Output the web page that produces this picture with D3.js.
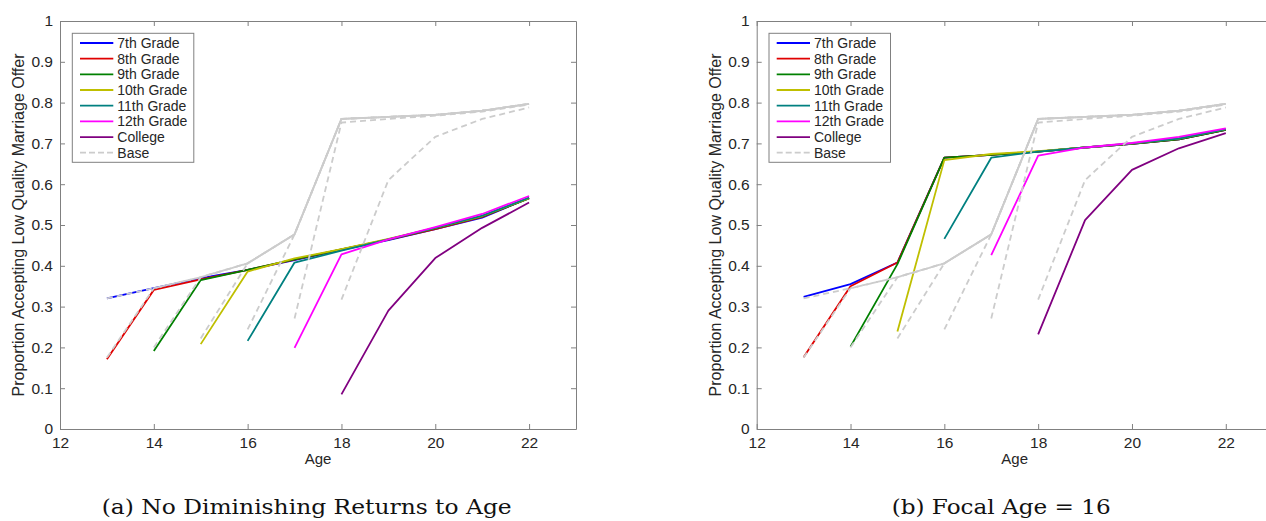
<!DOCTYPE html>
<html>
<head>
<meta charset="utf-8">
<script src="https://cdn.jsdelivr.net/npm/d3@7"></script>
<style>
  html, body { margin: 0; padding: 0; background: #fff; }
  svg { display: block; }
</style>
</head>
<body>
<svg id="chart" width="1266" height="521"></svg>
<script>
// ---------- DATA ----------
const seriesNames = ["7th Grade", "8th Grade", "9th Grade", "10th Grade", "11th Grade", "12th Grade", "College"];
const startAges = [13, 13, 14, 15, 16, 17, 18];
const xTickValues = [12, 14, 16, 18, 20, 22];
const yTickValues = [0, 0.1, 0.2, 0.3, 0.4, 0.5, 0.6, 0.7, 0.8, 0.9, 1];
const yTickLabels = ["0", "0.1", "0.2", "0.3", "0.4", "0.5", "0.6", "0.7", "0.8", "0.9", "1"];
const captions = ["(a) No Diminishing Returns to Age", "(b) Focal Age = 16"];

// Base (gray dashed) curves, one per entry grade (same in both panels)
const base7th     = [0.320, 0.345, 0.372, 0.406, 0.477, 0.760, 0.765, 0.770, 0.780, 0.797];
const base8th     = [0.175, 0.345, 0.372, 0.406, 0.477, 0.760, 0.765, 0.770, 0.780, 0.797];
const base9th     = [0.200, 0.372, 0.406, 0.477, 0.760, 0.765, 0.770, 0.780, 0.797];
const base10th    = [0.222, 0.406, 0.477, 0.760, 0.765, 0.770, 0.780, 0.797];
const base11th    = [0.244, 0.477, 0.760, 0.765, 0.770, 0.780, 0.797];
const base12th    = [0.271, 0.751, 0.760, 0.768, 0.778, 0.795];
const baseCollege = [0.317, 0.610, 0.716, 0.760, 0.788];

// Panel (a): No Diminishing Returns to Age
const noDim7th     = [0.320, 0.345, 0.370, 0.390, 0.414, 0.439, 0.463, 0.490, 0.518, 0.566];
const noDim8th     = [0.171, 0.341, 0.367, 0.390, 0.415, 0.440, 0.464, 0.490, 0.520, 0.566];
const noDim9th     = [0.191, 0.365, 0.390, 0.416, 0.440, 0.465, 0.492, 0.521, 0.565];
const noDim10th    = [0.208, 0.386, 0.418, 0.441, 0.466, 0.493, 0.522, 0.566];
const noDim11th    = [0.216, 0.408, 0.437, 0.465, 0.493, 0.523, 0.567];
const noDim12th    = [0.199, 0.428, 0.465, 0.495, 0.527, 0.571];
const noDimCollege = [0.085, 0.290, 0.419, 0.493, 0.555];

// Panel (b): Focal Age = 16
const focal7th     = [0.324, 0.355, 0.408, 0.665, 0.672, 0.680, 0.690, 0.699, 0.710, 0.733];
const focal8th     = [0.176, 0.350, 0.408, 0.665, 0.672, 0.680, 0.690, 0.699, 0.710, 0.733];
const focal9th     = [0.202, 0.404, 0.665, 0.672, 0.680, 0.690, 0.699, 0.710, 0.733];
const focal10th    = [0.239, 0.659, 0.674, 0.681, 0.690, 0.700, 0.712, 0.735];
const focal11th    = [0.466, 0.665, 0.680, 0.690, 0.700, 0.712, 0.735];
const focal12th    = [0.426, 0.670, 0.690, 0.701, 0.716, 0.737];
const focalCollege = [0.232, 0.512, 0.635, 0.688, 0.725];

// ---------- STYLE ----------
const seriesColors = ["#0000ff", "#e00000", "#008000", "#bfbf00", "#008080", "#ff00ff", "#800080"];
const baseColor = "#cccccc";
const axisColor = "#808080";
const textColor = "#262626";

const baseSets = [base7th, base8th, base9th, base10th, base11th, base12th, baseCollege];
const panels = [
  { left: 60, right: 576, sets: [noDim7th, noDim8th, noDim9th, noDim10th, noDim11th, noDim12th, noDimCollege], caption: captions[0], capX: 306.7, capW: 410 },
  { left: 756.7, right: 1272.7, sets: [focal7th, focal8th, focal9th, focal10th, focal11th, focal12th, focalCollege], caption: captions[1], capX: 1001.2, capW: 219 }
];

const plotTop = 21, plotBottom = 429;
const svg = d3.select("#chart");
const font = "'Liberation Sans', Arial, Helvetica, sans-serif";

function toPoints(values, start) {
  return values.map((v, i) => ({ x: start + i, y: v }));
}

panels.forEach(p => {
  const x = d3.scaleLinear().domain([12, 23]).range([p.left, p.right]);
  const y = d3.scaleLinear().domain([0, 1]).range([plotBottom, plotTop]);
  const g = svg.append("g");

  const bottomAxis = d3.axisBottom(x).tickValues(xTickValues).tickSizeInner(-5).tickSizeOuter(0).tickPadding(10).tickFormat(d3.format("d"));
  const topAxis = d3.axisTop(x).tickValues(xTickValues).tickSizeInner(-5).tickSizeOuter(0).tickFormat("");
  const leftAxis = d3.axisLeft(y).tickValues(yTickValues).tickSizeInner(-5).tickSizeOuter(0).tickPadding(7)
    .tickFormat((d, i) => yTickLabels[i]);
  const rightAxis = d3.axisRight(y).tickValues(yTickValues).tickSizeInner(-5).tickSizeOuter(0).tickFormat("");

  const gb = g.append("g").attr("transform", `translate(0,${plotBottom})`).call(bottomAxis);
  const gt = g.append("g").attr("transform", `translate(0,${plotTop})`).call(topAxis);
  const gl = g.append("g").attr("transform", `translate(${p.left},0)`).call(leftAxis);
  const gr = g.append("g").attr("transform", `translate(${p.right},0)`).call(rightAxis);
  [gb, gt, gl, gr].forEach(a => {
    a.select(".domain").attr("stroke", axisColor).attr("stroke-width", 1);
    a.selectAll(".tick line").attr("stroke", axisColor);
    a.selectAll("text").attr("fill", textColor).style("font-family", font).style("font-size", "15.5px");
  });
  gb.selectAll(".tick text").attr("dy", "0.71em").attr("y", 8);

  const line = d3.line().x(d => x(d.x)).y(d => y(d.y));

  p.sets.forEach((vals, i) => {
    g.append("path")
      .datum(toPoints(vals, startAges[i]))
      .attr("d", line)
      .attr("fill", "none")
      .attr("stroke", seriesColors[i])
      .attr("stroke-width", 1.8)
      .attr("stroke-linejoin", "round");
  });
  baseSets.forEach((vals, i) => {
    g.append("path")
      .datum(toPoints(vals, startAges[i]))
      .attr("d", line)
      .attr("fill", "none")
      .attr("stroke", baseColor)
      .attr("stroke-width", 1.8)
      .attr("stroke-dasharray", "6,4");
  });

  g.append("text")
    .attr("x", (p.left + p.left + 516) / 2)
    .attr("y", 464)
    .attr("text-anchor", "middle")
    .attr("fill", textColor)
    .style("font-family", font).style("font-size", "15px")
    .text("Age");
  g.append("text")
    .attr("transform", `translate(${p.left - 36},${(plotTop + plotBottom) / 2}) rotate(-90)`)
    .attr("text-anchor", "middle")
    .attr("fill", textColor)
    .style("font-family", font).style("font-size", "16px")
    .text("Proportion Accepting Low Quality Marriage Offer");

  const lgX = p.left + 12.3, lgY = 33.3, lgW = 121.5, lgH = 129;
  const lg = g.append("g");
  lg.append("rect").attr("x", lgX).attr("y", lgY).attr("width", lgW).attr("height", lgH)
    .attr("fill", "#fff").attr("stroke", axisColor).attr("stroke-width", 1);
  const entries = seriesNames.map((n, i) => ({ name: n, color: seriesColors[i], dash: null }))
    .concat([{ name: "Base", color: baseColor, dash: "6,3" }]);
  const rowY = d3.scaleLinear().domain([0, 7]).range([lgY + 9.7, lgY + 119.4]);
  entries.forEach((e, i) => {
    const yy = rowY(i);
    lg.append("line").attr("x1", lgX + 7.7).attr("x2", lgX + 41).attr("y1", yy).attr("y2", yy)
      .attr("stroke", e.color).attr("stroke-width", 1.8)
      .attr("stroke-dasharray", e.dash);
    lg.append("text").attr("x", lgX + 45).attr("y", yy).attr("dy", "0.36em")
      .attr("fill", textColor)
      .style("font-family", font).style("font-size", "14px")
      .text(e.name);
  });

  svg.append("text")
    .attr("x", p.capX).attr("y", 514)
    .attr("text-anchor", "middle")
    .attr("fill", "#111")
    .attr("textLength", p.capW)
    .attr("lengthAdjust", "spacingAndGlyphs")
    .style("font-family", "'DejaVu Serif', 'Liberation Serif', serif")
    .style("font-size", "20px")
    .text(p.caption);
});
</script>
</body>
</html>
